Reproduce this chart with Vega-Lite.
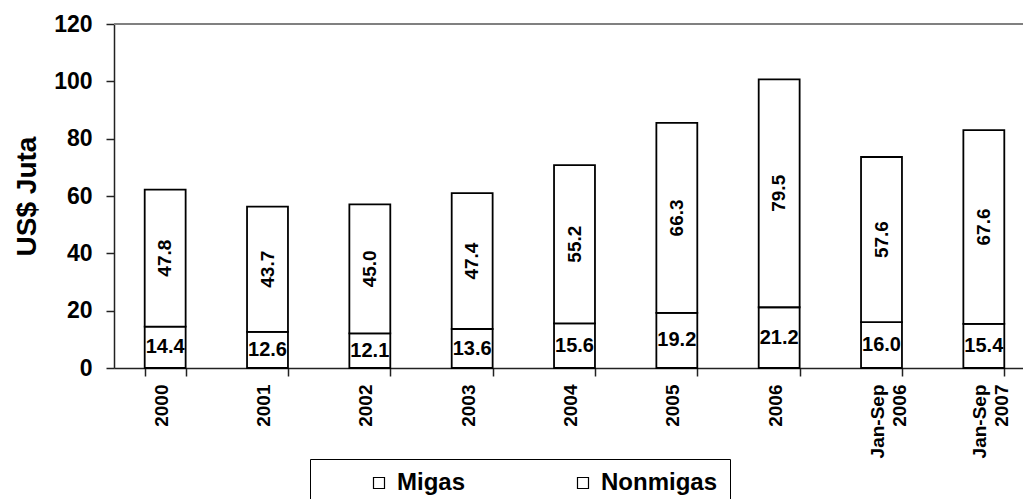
{
  "$schema": "https://vega.github.io/schema/vega-lite/v6.json",
  "autosize": {"type": "none"},
  "width": 909,
  "height": 344,
  "padding": {"left": 114, "top": 24, "right": 0, "bottom": 131},
  "background": "white",
  "config": {
    "font": "Liberation Sans",
    "view": {"stroke": null},
    "axis": {"labelFont": "Liberation Sans", "titleFont": "Liberation Sans", "labelColor": "black", "titleColor": "black"}
  },
  "data": {
    "values": [
      {"period": "2000", "type": "Migas", "value": 14.4},
      {"period": "2000", "type": "Nonmigas", "value": 47.8},
      {"period": "2001", "type": "Migas", "value": 12.6},
      {"period": "2001", "type": "Nonmigas", "value": 43.7},
      {"period": "2002", "type": "Migas", "value": 12.1},
      {"period": "2002", "type": "Nonmigas", "value": 45.0},
      {"period": "2003", "type": "Migas", "value": 13.6},
      {"period": "2003", "type": "Nonmigas", "value": 47.4},
      {"period": "2004", "type": "Migas", "value": 15.6},
      {"period": "2004", "type": "Nonmigas", "value": 55.2},
      {"period": "2005", "type": "Migas", "value": 19.2},
      {"period": "2005", "type": "Nonmigas", "value": 66.3},
      {"period": "2006", "type": "Migas", "value": 21.2},
      {"period": "2006", "type": "Nonmigas", "value": 79.5},
      {"period": "Jan-Sep 2006", "type": "Migas", "value": 16.0},
      {"period": "Jan-Sep 2006", "type": "Nonmigas", "value": 57.6},
      {"period": "Jan-Sep 2007", "type": "Migas", "value": 15.4},
      {"period": "Jan-Sep 2007", "type": "Nonmigas", "value": 67.6}
    ]
  },
  "transform": [
    {"stack": "value", "groupby": ["period"], "sort": [{"field": "type", "order": "ascending"}], "as": ["v0", "v1"]},
    {"calculate": "(datum.v0 + datum.v1) / 2", "as": "mid"}
  ],
  "encoding": {
    "x": {
      "field": "period",
      "type": "nominal",
      "sort": null,
      "scale": {"range": [0, 921], "paddingInner": 0.6, "paddingOuter": 0.3},
      "axis": {
        "title": null,
        "labelAngle": -90,
        "labelFontSize": 19,
        "labelFontWeight": "bold",
        "labelPadding": 8,
        "labelOffset": -4,
        "labelLineHeight": 22,
        "labelExpr": "indexof(datum.label, 'Jan') == 0 ? split(datum.label, ' ') : datum.label",
        "tickBand": "extent",
        "tickSize": 8,
        "tickColor": "#222",
        "domainColor": "#222",
        "domainWidth": 1.5,
        "tickWidth": 1.5
      }
    }
  },
  "layer": [
    {
      "mark": {"type": "bar", "stroke": "black", "strokeWidth": 1.8},
      "encoding": {
        "y": {
          "field": "v0",
          "type": "quantitative",
          "scale": {"domain": [0, 120], "nice": false},
          "axis": {
            "title": "US$ Juta",
            "titleFontSize": 28,
            "titleFontWeight": "bold",
            "titlePadding": 12,
            "values": [0, 20, 40, 60, 80, 100, 120],
            "labelFontSize": 23,
            "labelFontWeight": "bold",
            "labelPadding": 14,
            "tickSize": 8,
            "tickColor": "#222",
            "tickWidth": 1.5,
            "domainColor": "#222",
            "domainWidth": 1.5,
            "grid": false
          }
        },
        "y2": {"field": "v1"},
        "fill": {
          "field": "type",
          "type": "nominal",
          "scale": {"domain": ["Migas", "Nonmigas"], "range": ["white", "white"]},
          "legend": {
            "title": null,
            "orient": "none",
            "legendX": 196,
            "legendY": 435,
            "direction": "horizontal",
            "columns": 2,
            "gridAlign": "all",
            "symbolType": "square",
            "symbolSize": 121,
            "symbolStrokeColor": "black",
            "symbolStrokeWidth": 1.2,
            "symbolOffset": 45,
            "columnPadding": 12,
            "labelOffset": 6,
            "labelFontSize": 24,
            "labelFontWeight": "bold",
            "labelColor": "black",
            "labelFont": "Liberation Sans",
            "padding": 12,
            "strokeColor": "black"
          }
        }
      }
    },
    {
      "mark": {"type": "rule", "color": "#808080", "strokeWidth": 2},
      "encoding": {"y": {"datum": 120, "type": "quantitative"}, "x": {"value": 0}, "x2": {"value": 921}}
    },
    {
      "transform": [{"filter": "datum.type == 'Migas'"}],
      "mark": {"type": "text", "fontSize": 20, "fontWeight": "bold", "baseline": "middle", "align": "center", "font": "Liberation Sans", "color": "black"},
      "encoding": {
        "y": {"field": "mid", "type": "quantitative"},
        "text": {"field": "value", "type": "quantitative", "format": ".1f"}
      }
    },
    {
      "transform": [{"filter": "datum.type == 'Nonmigas'"}],
      "mark": {"type": "text", "angle": 270, "fontSize": 19, "fontWeight": "bold", "baseline": "middle", "align": "center", "font": "Liberation Sans", "color": "black"},
      "encoding": {
        "y": {"field": "mid", "type": "quantitative"},
        "text": {"field": "value", "type": "quantitative", "format": ".1f"}
      }
    }
  ]
}
